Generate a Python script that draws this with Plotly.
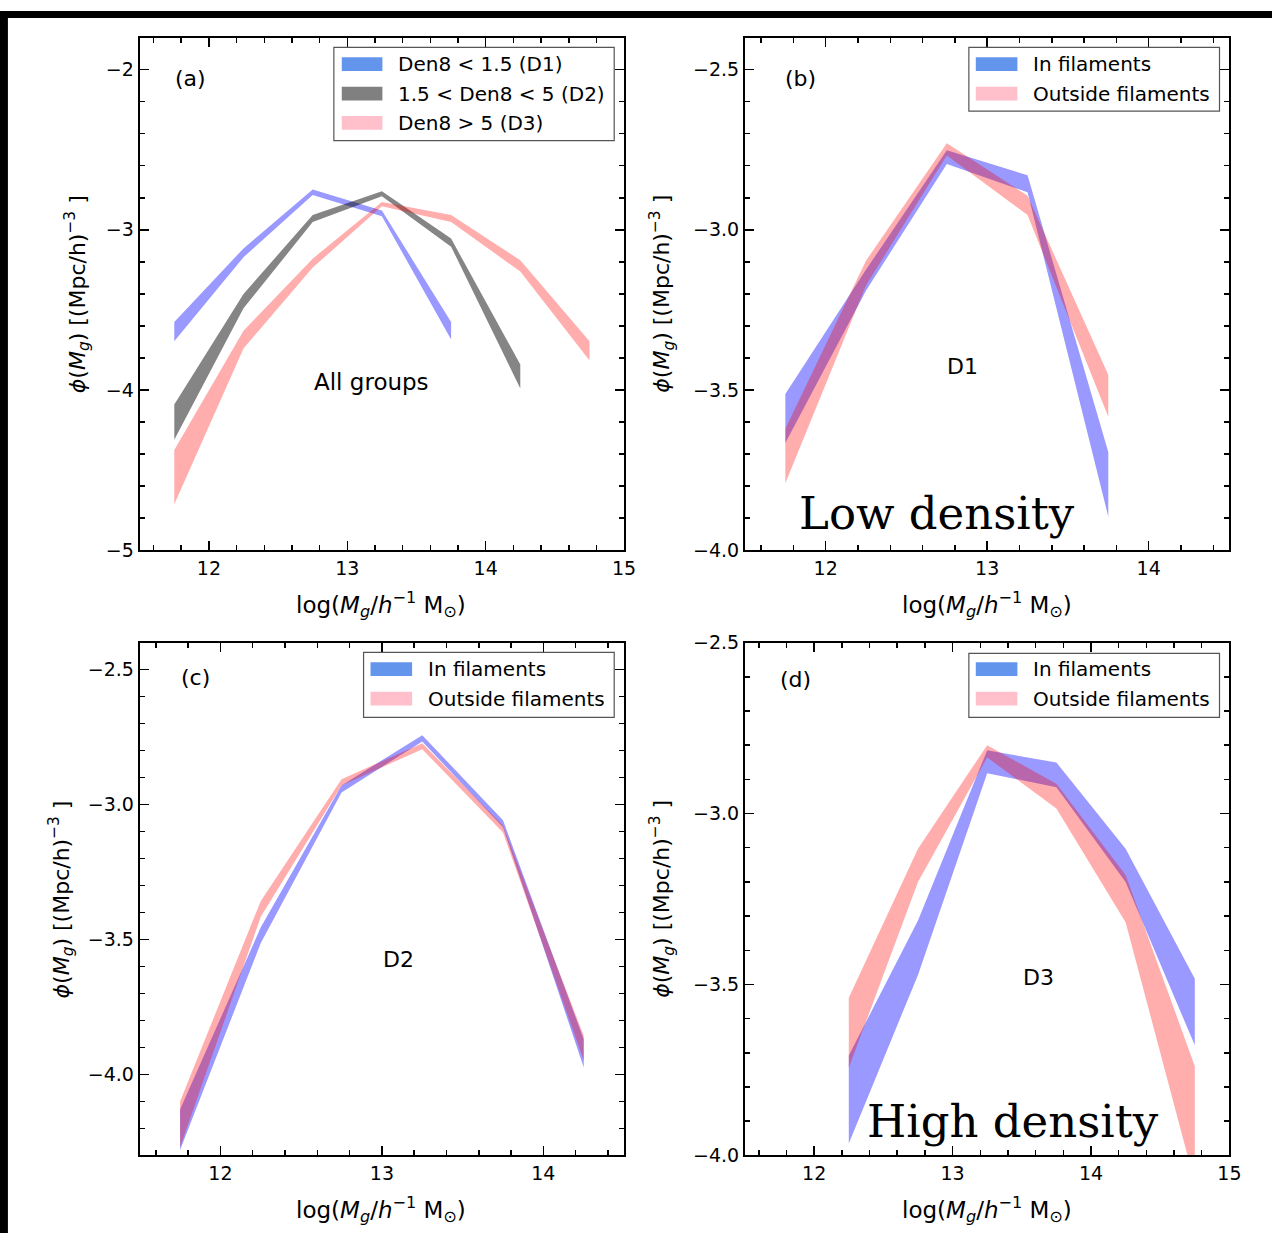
import plotly.graph_objects as go

W, H = 1284, 1244

# ---------------- data (log phi bands: upper / lower edges) ----------------
x_a_d1 = [11.75, 12.25, 12.75, 13.25, 13.75]
a_d1_hi = [-3.575, -3.116, -2.748, -2.880, -3.575]
a_d1_lo = [-3.696, -3.171, -2.783, -2.915, -3.685]

x_a_d2 = [11.75, 12.25, 12.75, 13.25, 13.75, 14.25]
a_d2_hi = [-4.09, -3.40, -2.908, -2.76, -3.055, -3.84]
a_d2_lo = [-4.31, -3.49, -2.952, -2.79, -3.105, -3.99]

x_a_d3 = [11.75, 12.25, 12.75, 13.25, 13.75, 14.25, 14.75]
a_d3_hi = [-4.374, -3.63, -3.18, -2.827, -2.908, -3.19, -3.696]
a_d3_lo = [-4.713, -3.74, -3.236, -2.853, -2.952, -3.26, -3.816]

x_b = [11.75, 12.25, 12.75, 13.25, 13.75]
b_in_hi = [-3.512, -3.124, -2.752, -2.830, -3.693]
b_in_lo = [-3.665, -3.189, -2.795, -2.883, -3.895]
b_out_hi = [-3.621, -3.096, -2.730, -2.894, -3.452]
b_out_lo = [-3.791, -3.173, -2.768, -2.954, -3.583]

x_c = [11.75, 12.25, 12.75, 13.25, 13.75, 14.25]
c_in_hi = [-4.13, -3.455, -2.929, -2.743, -3.058, -3.870]
c_in_lo = [-4.28, -3.513, -2.955, -2.766, -3.084, -3.974]
c_out_hi = [-4.10, -3.357, -2.906, -2.773, -3.078, -3.857]
c_out_lo = [-4.27, -3.416, -2.929, -2.795, -3.104, -3.948]

x_d = [12.25, 12.75, 13.25, 13.75, 14.25, 14.75]
d_in_hi = [-3.708, -3.313, -2.815, -2.851, -3.103, -3.483]
d_in_lo = [-3.965, -3.472, -2.882, -2.923, -3.200, -3.678]
d_out_hi = [-3.539, -3.103, -2.800, -2.913, -3.180, -3.739]
d_out_lo = [-3.744, -3.200, -2.836, -2.985, -3.318, -4.08]

legend_a = ["Den8 < 1.5 (D1)", "1.5 < Den8 < 5 (D2)", "Den8 > 5 (D3)"]
legend_f = ["In filaments", "Outside filaments"]

BLUE = "rgba(0,0,255,0.4)"
GRAY = "rgba(0,0,0,0.48)"
RED = "rgba(255,0,0,0.32)"
P_BLUE, P_GRAY, P_PINK = "#6495ED", "#808080", "#FFC0CB"

FONT = "DejaVu Sans"


def fx(px):
    return px / W


def fy(py):
    return 1 - py / H


fig = go.Figure()


def band(x, hi, lo, color, xa, ya, name):
    fig.add_trace(go.Scatter(
        x=list(x) + list(x)[::-1], y=list(hi) + list(lo)[::-1],
        fill="toself", fillcolor=color, mode="none", name=name,
        xaxis=xa, yaxis=ya, showlegend=False, hoverinfo="skip"))


band(x_a_d1, a_d1_hi, a_d1_lo, BLUE, "x", "y", legend_a[0])
band(x_a_d2, a_d2_hi, a_d2_lo, GRAY, "x", "y", legend_a[1])
band(x_a_d3, a_d3_hi, a_d3_lo, RED, "x", "y", legend_a[2])

band(x_b, b_in_hi, b_in_lo, BLUE, "x2", "y2", legend_f[0])
band(x_b, b_out_hi, b_out_lo, RED, "x2", "y2", legend_f[1])

band(x_c, c_in_hi, c_in_lo, BLUE, "x3", "y3", legend_f[0])
band(x_c, c_out_hi, c_out_lo, RED, "x3", "y3", legend_f[1])

band(x_d, d_in_hi, d_in_lo, BLUE, "x4", "y4", legend_f[0])
band(x_d, d_out_hi, d_out_lo, RED, "x4", "y4", legend_f[1])


def axis(domain, rng, dtick, mdtick, anchor, fmt=None):
    d = dict(domain=domain, range=rng, anchor=anchor, dtick=dtick, tick0=0,
             showline=True, linecolor="black", linewidth=2, mirror="ticks",
             ticks="inside", ticklen=9, tickwidth=1.5, tickcolor="black",
             showgrid=False, zeroline=False, fixedrange=True,
             tickfont=dict(family=FONT, size=19, color="black"),
             minor=dict(ticks="inside", ticklen=5, tickwidth=1.5,
                        tickcolor="black", dtick=mdtick, tick0=0, showgrid=False))
    if fmt:
        d["tickformat"] = fmt
    return d


XL = [fx(141), fx(630)]
XR = [fx(752), fx(1241)]
YT = [fy(549), fy(27)]
YB = [fy(1165), fy(643)]

fig.update_layout(
    width=W, height=H,
    margin=dict(l=0, r=0, t=0, b=0),
    paper_bgcolor="white", plot_bgcolor="white",
    showlegend=False, dragmode=False,
    font=dict(family=FONT, color="black"),
    xaxis=axis(XL, [11.5, 15], 1, 0.2, "y"),
    yaxis=axis(YT, [-5, -1.8], 1, 0.2, "x"),
    xaxis2=axis(XR, [11.5, 14.5], 1, 0.2, "y2"),
    yaxis2=axis(YT, [-4, -2.4], 0.5, 0.1, "x2", ".1f"),
    xaxis3=axis(XL, [11.5, 14.5], 1, 0.2, "y3"),
    yaxis3=axis(YB, [-4.3, -2.4], 0.5, 0.1, "x3", ".1f"),
    xaxis4=axis(XR, [11.5, 15], 1, 0.2, "y4"),
    yaxis4=axis(YB, [-4, -2.5], 0.5, 0.1, "x4", ".1f"),
)

ann = []
shapes = []


def text(px, py, s, size=22, family=FONT, xanchor="center", angle=0):
    ann.append(dict(x=fx(px), y=fy(py), xref="paper", yref="paper", text=s,
                    showarrow=False, xanchor=xanchor, yanchor="middle",
                    textangle=angle,
                    font=dict(family=family, size=size, color="black")))


# panel labels and inner texts
text(192, 69, "(a)")
text(808, 69, "(b)")
text(197, 678, "(c)")
text(803, 681, "(d)")
text(375, 378, "All groups", 23)
text(972, 362, "D1", 22)
text(402, 966, "D2", 22)
text(1048, 984, "D3", 22)
text(946, 512, "Low density", 45, "DejaVu Serif")
text(1023, 1130, "High density", 45, "DejaVu Serif")

# axis titles
XT = "log(<i>M</i><sub><i>g</i></sub>/<i>h</i><sup>−1</sup> M<sub>⊙</sub>)"
YTT = "<i>ϕ</i>(<i>M</i><sub><i>g</i></sub>) [(Mpc/h)<sup>−3</sup> ]"
for (cx, cy) in [(385, 604), (996, 604), (385, 1220), (996, 1220)]:
    text(cx, cy, XT, 23)
for (cx, cy) in [(78, 288), (668, 288), (62, 904), (668, 904)]:
    text(cx, cy, YTT, 22, angle=-90)


# legends (drawn as boxes with colour patches)
def legend(x0, y0, x1, y1, rows, labels, colors, px0, px1, tx):
    shapes.append(dict(type="rect", xref="paper", yref="paper",
                       x0=fx(x0), x1=fx(x1), y0=fy(y1), y1=fy(y0),
                       line=dict(color="#555555", width=1.2), fillcolor="white",
                       layer="above"))
    for ry, lab, col in zip(rows, labels, colors):
        shapes.append(dict(type="rect", xref="paper", yref="paper",
                           x0=fx(px0), x1=fx(px1), y0=fy(ry + 7), y1=fy(ry - 7),
                           line=dict(width=0), fillcolor=col, layer="above"))
        text(tx, ry, lab, 20, xanchor="left")


legend(337, 37, 620, 132, [54, 84, 114], legend_a, [P_BLUE, P_GRAY, P_PINK], 345, 386, 400)
legend(978, 37, 1231, 102, [54, 84], legend_f, [P_BLUE, P_PINK], 985, 1027, 1041)
legend(367, 653, 620, 719, [670, 700], legend_f, [P_BLUE, P_PINK], 374, 416, 430)
legend(978, 654, 1231, 719, [670, 700], legend_f, [P_BLUE, P_PINK], 985, 1027, 1041)

# black border strips of the original picture
shapes.append(dict(type="rect", xref="paper", yref="paper", x0=0, x1=fx(8), y0=0, y1=1,
                   fillcolor="black", line=dict(width=0), layer="above"))
shapes.append(dict(type="rect", xref="paper", yref="paper", x0=0, x1=1, y0=fy(7), y1=1,
                   fillcolor="black", line=dict(width=0), layer="above"))

fig.update_layout(annotations=ann, shapes=shapes)
fig.write_html("out.html", config={"staticPlot": True, "displayModeBar": False})
